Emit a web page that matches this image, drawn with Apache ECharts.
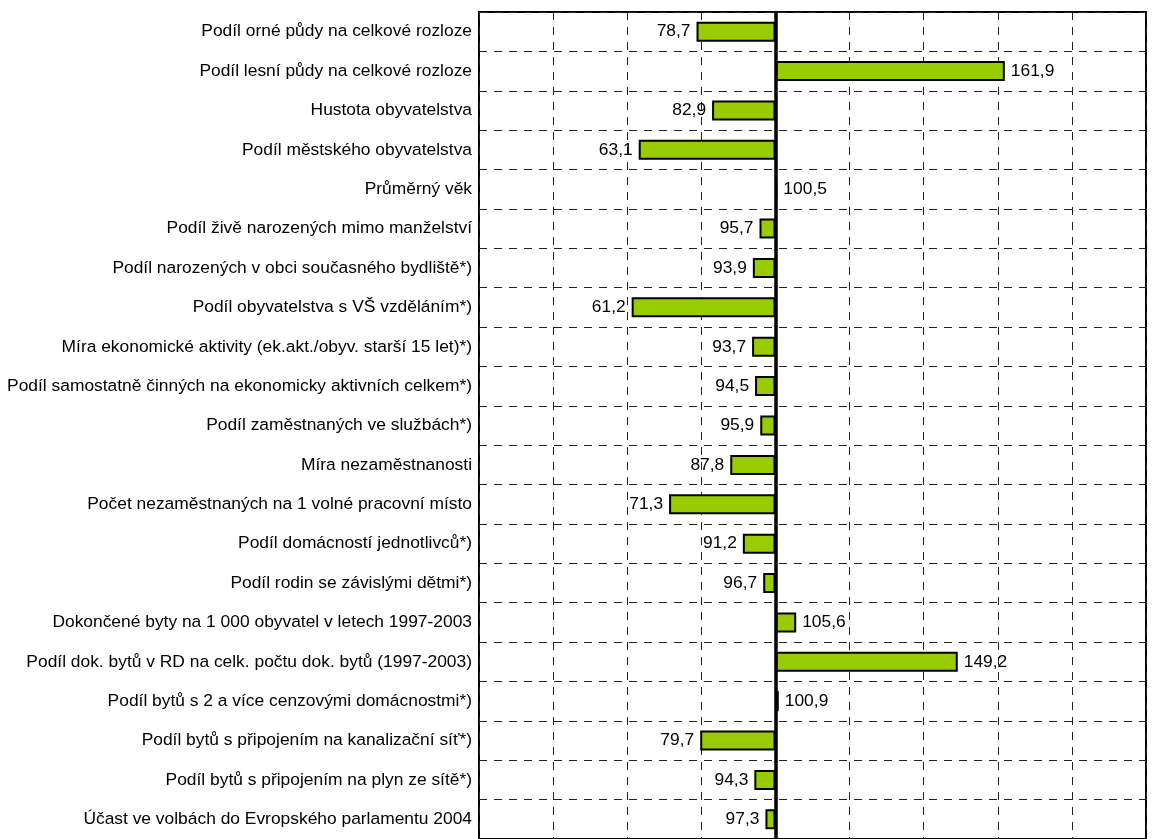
<!DOCTYPE html>
<html>
<head>
<meta charset="utf-8">
<script src="https://cdn.jsdelivr.net/npm/echarts@6/dist/echarts.min.js"></script>
<style>
html,body{margin:0;padding:0;background:#fff;}
#chart{width:1162px;height:839px;}
</style>
</head>
<body>
<div id="chart"></div>
<script>
const categories = [
  "Podíl orné půdy na celkové rozloze",
  "Podíl lesní půdy na celkové rozloze",
  "Hustota obyvatelstva",
  "Podíl městského obyvatelstva",
  "Průměrný věk",
  "Podíl živě narozených mimo manželství",
  "Podíl narozených v obci současného bydliště*)",
  "Podíl obyvatelstva s VŠ vzděláním*)",
  "Míra ekonomické aktivity (ek.akt./obyv. starší 15 let)*)",
  "Podíl samostatně činných na ekonomicky aktivních celkem*)",
  "Podíl zaměstnaných ve službách*)",
  "Míra nezaměstnanosti",
  "Počet nezaměstnaných na 1 volné pracovní místo",
  "Podíl domácností jednotlivců*)",
  "Podíl rodin se závislými dětmi*)",
  "Dokončené byty na 1 000 obyvatel v letech 1997-2003",
  "Podíl dok. bytů v RD na celk. počtu dok. bytů (1997-2003)",
  "Podíl bytů s 2 a více cenzovými domácnostmi*)",
  "Podíl bytů s připojením na kanalizační síť*)",
  "Podíl bytů s připojením na plyn ze sítě*)",
  "Účast ve volbách do Evropského parlamentu 2004"
];
const values = [78.7, 161.9, 82.9, 63.1, 100.5, 95.7, 93.9, 61.2, 93.7, 94.5, 95.9, 87.8, 71.3, 91.2, 96.7, 105.6, 149.2, 100.9, 79.7, 94.3, 97.3];
const baseline = 100;
const axisMin = 20, axisMax = 200, axisStep = 20;

const FONT = "'Liberation Sans', Arial, sans-serif";
const fmt = v => v.toFixed(1).replace('.', ',');

const baseData = values.map(v => Math.min(v, baseline));
const diffData = values.map((v, i) => ({
  value: Math.abs(v - baseline),
  orig: v,
  label: { position: v < baseline ? 'left' : 'right' }
}));

const chart = echarts.init(document.getElementById('chart'));
chart.setOption({
  animation: false,
  backgroundColor: '#fff',
  grid: {
    left: 479, right: 16, top: 12, bottom: 0,
    show: true, borderColor: '#000', borderWidth: 2, backgroundColor: 'transparent'
  },
  xAxis: {
    type: 'value', min: axisMin, max: axisMax, interval: axisStep,
    axisLabel: { show: false }, axisTick: { show: false }, axisLine: { show: false },
    splitLine: { show: true, lineStyle: { color: '#222', width: 1, type: [8, 7] } }
  },
  yAxis: {
    type: 'category', data: categories, inverse: true,
    axisTick: { show: false }, axisLine: { show: false },
    axisLabel: { color: '#000', fontSize: 17.4, fontFamily: FONT, margin: 7 },
    splitLine: { show: true, interval: 0, lineStyle: { color: '#222', width: 1, type: [8, 7] } }
  },
  series: [
    {
      type: 'bar', stack: 'a', data: baseData, barWidth: 20,
      itemStyle: { color: 'transparent' }, silent: true
    },
    {
      type: 'bar', stack: 'a', data: diffData, barWidth: 20,
      itemStyle: { color: '#99CC00', borderColor: '#000', borderWidth: 2 },
      label: {
        show: true, color: '#000', fontSize: 17.4, fontFamily: FONT, distance: 6,
        formatter: p => fmt(p.data.orig)
      },
      markLine: {
        silent: true, symbol: 'none', animation: false,
        label: { show: false },
        lineStyle: { color: '#000', width: 3.5, type: 'solid' },
        data: [{ xAxis: baseline }]
      }
    }
  ]
});
</script>
</body>
</html>
